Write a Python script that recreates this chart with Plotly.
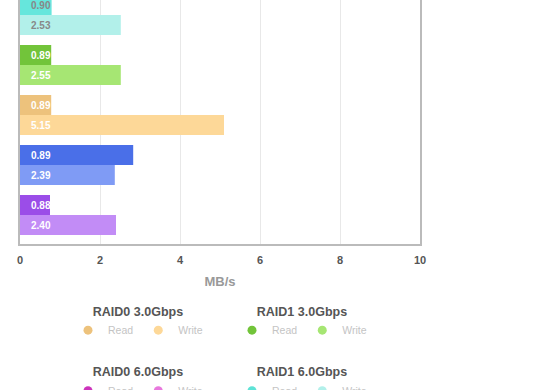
import plotly.graph_objects as go

# Visible configurations, bottom to top
configs = ["Purple", "Blue", "RAID0 3.0Gbps", "RAID1 3.0Gbps", "RAID1 6.0Gbps"]
positions = [0, 1, 2, 3, 4]
read_values = [0.75, 2.83, 0.78, 0.78, 0.79]
write_values = [2.40, 2.37, 5.10, 2.52, 2.52]
read_labels = ["0.88", "0.89", "0.89", "0.89", "0.90"]
write_labels = ["2.40", "2.39", "5.15", "2.55", "2.53"]
read_colors = ["#9B4DE8", "#4A6FE8", "#EDC27C", "#72C43A", "#66E6DC"]
write_colors = ["#C28CF6", "#7F9BF5", "#FDD898", "#A6E673", "#B2F0EA"]
label_colors = ["#ffffff", "#ffffff", "#ffffff", "#ffffff", "#888888"]

# Legend groups
legend_titles = ["RAID0 3.0Gbps", "RAID1 3.0Gbps", "RAID0 6.0Gbps", "RAID1 6.0Gbps"]
legend_read_colors = ["#EDC27C", "#72C43A", "#CC33BB", "#5EE3D6"]
legend_write_colors = ["#FDD898", "#A6E673", "#E878DD", "#B2F0EA"]
series_names = ["Read", "Write"]

FONT = "Liberation Sans, Arial, Helvetica, sans-serif"

fig = go.Figure()
fig.add_trace(go.Bar(
    orientation="h", y=positions, x=write_values, width=0.4, offset=-0.4,
    marker=dict(color=write_colors, line=dict(width=0)), showlegend=False, hoverinfo="x",
))
fig.add_trace(go.Bar(
    orientation="h", y=positions, x=read_values, width=0.4, offset=0.0,
    marker=dict(color=read_colors, line=dict(width=0)), showlegend=False, hoverinfo="x",
))

for i, p in enumerate(positions):
    fig.add_annotation(x=0, y=p + 0.2, text=read_labels[i], showarrow=False,
                       xanchor="left", xshift=9, yanchor="middle",
                       font=dict(family=FONT, size=10, color=label_colors[i], weight="bold"))
    fig.add_annotation(x=0, y=p - 0.2, text=write_labels[i], showarrow=False,
                       xanchor="left", xshift=9, yanchor="middle",
                       font=dict(family=FONT, size=10, color=label_colors[i], weight="bold"))

legend_ids = ["legend", "legend2", "legend3", "legend4"]
legend_x = [0.295, 0.705, 0.295, 0.705]
legend_y = [-0.227, -0.227, -0.475, -0.475]
for g, lid in enumerate(legend_ids):
    for s, col in zip(series_names, [legend_read_colors[g], legend_write_colors[g]]):
        fig.add_trace(go.Scatter(
            x=[None], y=[None], mode="markers", name=s, legend=lid,
            marker=dict(symbol="circle", size=9, color=col),
        ))

legend_common = dict(
    orientation="h", xanchor="center", yanchor="top", bgcolor="rgba(0,0,0,0)",
    font=dict(family=FONT, size=10.5, color="#c4c4c4"),
)
layout_legends = {}
for g, lid in enumerate(legend_ids):
    layout_legends[lid] = dict(
        legend_common, x=legend_x[g], y=legend_y[g],
        title=dict(text=legend_titles[g], side="top center",
                   font=dict(family=FONT, size=12.5, color="#555555", weight="bold")),
    )

fig.update_layout(
    width=560, height=390,
    margin=dict(l=20, r=140, t=0, b=146, autoexpand=False),
    paper_bgcolor="white", plot_bgcolor="white",
    barmode="overlay",
    showlegend=True,
    xaxis=dict(
        range=[0, 10], tickvals=[0, 2, 4, 6, 8, 10], ticks="",
        showgrid=True, gridcolor="#e8e8e8", gridwidth=1,
        showline=True, linecolor="#bbbbbb", linewidth=1.5, mirror=False,
        zeroline=False, ticklabelstandoff=5,
        tickfont=dict(family=FONT, size=11, color="#555555", weight="bold"),
        title=dict(text="MB/s", standoff=12,
                   font=dict(family=FONT, size=13, color="#999999", weight="bold")),
        fixedrange=True,
    ),
    yaxis=dict(
        range=[-0.58, 4.3], showticklabels=False, ticks="", showgrid=False,
        zeroline=False, showline=True, linecolor="#bbbbbb", linewidth=1.5, mirror=True,
        fixedrange=True,
    ),
    **layout_legends,
)

fig.write_html("out.html", config={"displayModeBar": False},
               post_script="document.body.style.margin='0';")
